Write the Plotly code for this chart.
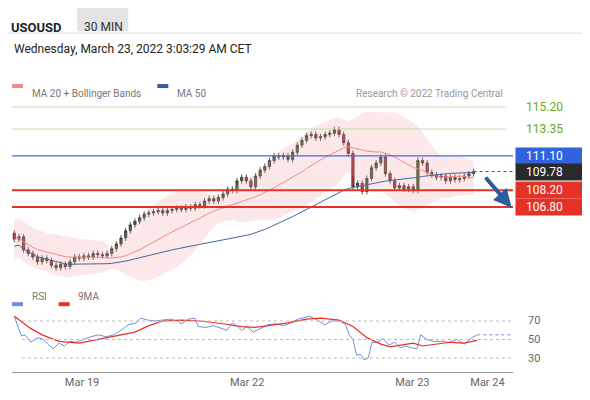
import plotly.graph_objects as go
import pandas as pd

closes = [104.1, 104.3, 103.2, 102.9, 102.6, 102.2, 102.5, 102.3, 101.9, 101.7,
          102.0, 101.8, 102.2, 102.6, 102.5, 102.7, 102.6, 102.9, 102.8, 102.7,
          102.9, 103.3, 103.7, 104.2, 104.8, 105.3, 105.6, 105.9, 106.2, 106.3,
          106.4, 106.5, 106.3, 106.5, 106.6, 106.7, 106.6, 106.8, 106.7, 107.0,
          106.9, 107.3, 107.5, 107.3, 107.6, 107.9, 108.3, 108.2, 109.0, 109.3,
          109.0, 108.5, 109.4, 109.9, 110.2, 110.7, 111.1, 111.0, 111.1, 110.8,
          111.4, 112.0, 112.4, 112.8, 112.9, 112.6, 112.7, 112.9, 113.0, 113.3,
          112.9, 112.2, 111.3, 108.5, 108.8, 108.1, 109.2, 110.1, 110.5, 111.0,
          109.6, 109.0, 108.4, 108.6, 108.3, 108.5, 108.2, 110.7, 110.5, 109.7,
          109.5, 109.3, 109.4, 109.0, 109.3, 109.1, 109.2, 109.4, 109.6, 109.78]
first_open = 104.6
wick = 0.25

# RSI (candle index, value)
rsi_x = [0, 1.5, 2.3, 3.5, 5.1, 6.3, 7.2, 8.4, 9.6, 10.8, 12, 13.3, 14.9, 16.5, 18.1, 19.8,
         21.4, 23, 24.6, 26.3, 27.2, 28.7, 30.3, 32, 33.6, 35.2, 36, 37.6, 38.9, 39.7, 41.3,
         42.9, 44.6, 45.8, 47, 48.2, 49, 50.2, 51.5, 53.1, 54.7, 56.3, 58, 59.6, 61.2, 62.8,
         63.7, 65.3, 66.9, 68.5, 70.2, 71.4, 72.2, 73, 73.8, 74.6, 75.4, 76.3, 77.1, 78.3,
         79.5, 80.7, 82, 83.2, 84.4, 85.6, 86.8, 87.6, 88.9, 90.5, 92.1, 93.7, 95.4, 97,
         98.6, 99.8]
rsi_y = [75, 54, 55, 47, 52, 50, 45, 40, 46, 43, 48, 47, 50, 53, 55, 53,
         55, 60, 66, 68, 73, 71, 70, 71, 72, 70, 67, 72, 73, 64, 63,
         65, 62, 60, 68, 64, 60, 64, 58, 62, 66, 67, 65, 68, 72, 74,
         75, 71, 66, 70, 70, 66, 55, 50, 33, 34, 28, 30, 47, 47,
         51, 44, 47, 41, 43, 41, 40, 55, 50, 48, 48, 47, 50, 45,
         52, 55]
ma9_x = [0, 3.5, 6, 9.6, 14, 18, 22, 26, 29, 32, 36, 40, 45, 49, 52, 55, 59, 63, 66,
         70, 73, 76, 79, 81, 84, 86, 88, 91, 94, 97, 99.8]
ma9_y = [75, 62, 55, 48, 46, 50, 54, 58, 65, 70, 71, 70, 67, 64, 63, 65, 68, 72, 73,
         71, 64, 52, 45, 42, 44, 46, 43, 45, 47, 46, 49]

resistances = [115.20, 113.35]
pivot = 111.10
supports = [108.20, 106.80]
last_price = 109.78
date_ticks = [14.6, 50.2, 85.8, 102]
date_labels = ["Mar 19", "Mar 22", "Mar 23", "Mar 24"]
rsi_levels = [70, 50, 30]

s = pd.Series(closes)
idx = list(range(len(closes)))
opens = [first_open] + closes[:-1]
highs = [max(o, c) + wick for o, c in zip(opens, closes)]
lows = [min(o, c) - wick for o, c in zip(opens, closes)]
ma20 = s.rolling(20, min_periods=1).mean()
sd20 = s.rolling(20, min_periods=6).std().bfill()
ma50 = s.rolling(50, min_periods=1).mean() - 0.6

fig = go.Figure()
# Bollinger band
fig.add_trace(go.Scatter(x=idx, y=ma20 + 2 * sd20, mode="lines", line=dict(width=0), hoverinfo="skip"))
fig.add_trace(go.Scatter(x=idx, y=ma20 - 2 * sd20, mode="lines", line=dict(width=0),
                         fill="tonexty", fillcolor="rgba(240,150,150,0.22)", hoverinfo="skip"))
fig.add_trace(go.Scatter(x=idx, y=ma20, mode="lines", line=dict(color="#f08a8a", width=1)))
fig.add_trace(go.Scatter(x=idx, y=ma50, mode="lines", line=dict(color="#4a66a0", width=1)))
fig.add_trace(go.Candlestick(x=idx, open=opens, high=highs, low=lows, close=closes,
                             increasing=dict(line=dict(color="#333", width=0.8), fillcolor="#3a7a2a"),
                             decreasing=dict(line=dict(color="#333", width=0.8), fillcolor="#d22b2b"),
                             whiskerwidth=0))
# RSI
fig.add_trace(go.Scatter(x=rsi_x, y=rsi_y, yaxis="y2", mode="lines", line=dict(color="#6f8ee0", width=1)))
fig.add_trace(go.Scatter(x=ma9_x, y=ma9_y, yaxis="y2", mode="lines", line=dict(color="#e53226", width=1.2)))
fig.add_trace(go.Scatter(x=[rsi_x[-1], 107], y=[rsi_y[-1]] * 2, yaxis="y2", mode="lines",
                         line=dict(color="#6f8ee0", width=1, dash="dot")))

shapes, ann = [], []
for r in resistances:
    shapes.append(dict(type="line", xref="paper", x0=0, x1=0.985, y0=r, y1=r, line=dict(color="#c5dba8", width=1)))
    ann.append(dict(x=1.022, xref="paper", y=r, xanchor="left", text=f"{r:.2f}", showarrow=False,
                    font=dict(color="#6aaa1a", size=12)))
shapes.append(dict(type="line", xref="paper", x0=0, x1=1, y0=pivot, y1=pivot, line=dict(color="#3a6fe0", width=1.2)))
for sp in supports:
    shapes.append(dict(type="line", xref="paper", x0=0, x1=1, y0=sp, y1=sp, line=dict(color="#e53226", width=2)))
shapes.append(dict(type="line", x0=idx[-1], x1=107.5, y0=last_price, y1=last_price,
                   line=dict(color="#555", width=1, dash="dot")))
pad = "&nbsp;" * 7
for v, c in [(pivot, "#2f63e0"), (last_price, "#2a2a2a"), (supports[0], "#e53226"), (supports[1], "#e53226")]:
    ann.append(dict(x=1.004, xref="paper", y=v, xanchor="left", text=f"&nbsp;&nbsp;&nbsp;{v:.2f}{pad}",
                    showarrow=False, bgcolor=c, font=dict(color="white", size=12), borderpad=1, align="left"))
for lv in rsi_levels:
    shapes.append(dict(type="line", xref="paper", x0=0.02, x1=1, y0=lv, y1=lv, yref="y2",
                       line=dict(color="#bbb", width=1, dash="dot")))
    ann.append(dict(x=1.025, xref="paper", y=lv, yref="y2", xanchor="left", text=str(lv), showarrow=False,
                    font=dict(color="#666", size=11)))
# arrow
ann.append(dict(x=107.2, y=106.75, ax=101.3, ay=109.4, axref="x", ayref="y", showarrow=True,
                arrowhead=2, arrowsize=0.9, arrowwidth=4, arrowcolor="#2e5c9a", text=""))
# header
shapes += [dict(type="rect", xref="paper", yref="paper", x0=0.13, x1=0.232, y0=1.228, y1=1.314,
                line=dict(width=0), fillcolor="#e4e4e4"),
           dict(type="line", xref="paper", yref="paper", x0=-0.03, x1=1.2, y0=1.221, y1=1.221,
                line=dict(color="#ddd", width=1)),
           dict(type="line", xref="paper", yref="paper", x0=0.0, x1=0.022, y0=1.032, y1=1.032,
                line=dict(color="#f08a8a", width=4)),
           dict(type="line", xref="paper", yref="paper", x0=0.29, x1=0.312, y0=1.032, y1=1.032,
                line=dict(color="#3a5a9a", width=4)),
           dict(type="line", xref="paper", yref="paper", x0=0.0, x1=0.022, y0=0.253, y1=0.253,
                line=dict(color="#6f8ee0", width=4)),
           dict(type="line", xref="paper", yref="paper", x0=0.093, x1=0.115, y0=0.253, y1=0.253,
                line=dict(color="#e53226", width=4))]
txt = [(-0.005, 1.275, "<b>USOUSD</b>", 13, "#222"), (0.14, 1.275, "30 MIN", 12, "#333"),
       (0.0, 1.198, "Wednesday, March 23, 2022 3:03:29 AM CET", 12, "#222"),
       (0.035, 1.032, "MA 20 + Bollinger Bands", 10, "#777"), (0.325, 1.032, "MA 50", 10, "#777"),
       (0.035, 0.253, "RSI", 10, "#777"), (0.128, 0.253, "9MA", 10, "#777")]
for x, y, t, sz, c in txt:
    ann.append(dict(x=x, y=y, xref="paper", yref="paper", xanchor="left", text=t, showarrow=False,
                    font=dict(size=sz, color=c)))
ann.append(dict(x=0.985, y=1.032, xref="paper", yref="paper", xanchor="right", showarrow=False,
                text="Research © 2022 Trading Central", font=dict(size=10, color="#999")))

fig.update_layout(
    width=590, height=400, showlegend=False, plot_bgcolor="white", paper_bgcolor="white",
    font=dict(family="Roboto, Arial, sans-serif"),
    margin=dict(l=4, r=85, t=87, b=33),
    xaxis=dict(anchor="y2", range=[-0.5, 107.5], tickvals=date_ticks, ticktext=date_labels,
               rangeslider=dict(visible=False),
               showgrid=False, showline=True, linecolor="#999", ticks="outside", ticklen=0,
               tickfont=dict(size=11, color="#666"), zeroline=False),
    yaxis=dict(domain=[0.33, 1.0], range=[100.45, 116.21], visible=False),
    yaxis2=dict(domain=[0.011, 0.226], range=[15, 80], visible=False),
    shapes=shapes, annotations=ann,
)
fig.write_html("out.html")
